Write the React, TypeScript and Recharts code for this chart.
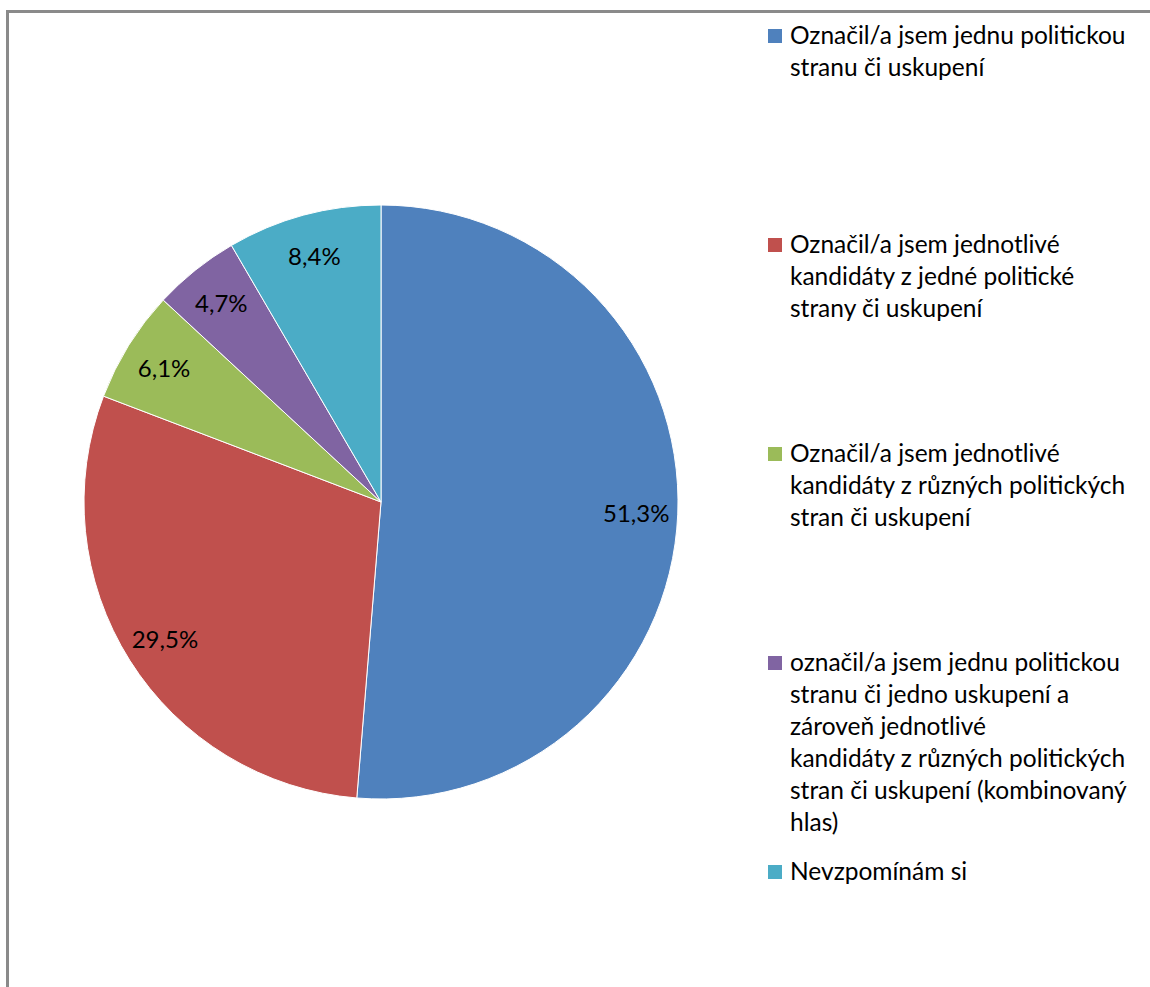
import { Cell, Legend, Pie, PieChart } from "recharts";

const CATEGORIES = [
  "Označil/a jsem jednu politickou stranu či uskupení",
  "Označil/a jsem jednotlivé kandidáty z jedné politické strany či uskupení",
  "Označil/a jsem jednotlivé kandidáty z různých politických stran či uskupení",
  "označil/a jsem jednu politickou stranu či jedno uskupení a zároveň jednotlivé kandidáty z různých politických stran či uskupení (kombinovaný hlas)",
  "Nevzpomínám si",
];

// legend lines as broken in the original
const LEGEND_LINES = [
  ["Označil/a jsem jednu politickou", "stranu či uskupení"],
  ["Označil/a jsem jednotlivé", "kandidáty z jedné politické", "strany či uskupení"],
  ["Označil/a jsem jednotlivé", "kandidáty z různých politických", "stran či uskupení"],
  [
    "označil/a jsem jednu politickou",
    "stranu či jedno uskupení a",
    "zároveň jednotlivé",
    "kandidáty z různých politických",
    "stran či uskupení (kombinovaný",
    "hlas)",
  ],
  ["Nevzpomínám si"],
];

const VALUES = [51.3, 29.5, 6.1, 4.7, 8.4];

const COLORS = ["#4F81BD", "#C0504D", "#9BBB59", "#8064A2", "#4BACC6"];

const FONT = "Lato, 'Open Sans', sans-serif";
const RADIAN = Math.PI / 180;

const data = CATEGORIES.map((name, i) => ({ name, value: VALUES[i] }));

function renderLabel(props: any) {
  const { cx, cy, midAngle, outerRadius, value } = props;
  const r = outerRadius * 0.86;
  const x = cx + r * Math.cos(-midAngle * RADIAN);
  const y = cy + r * Math.sin(-midAngle * RADIAN);
  return (
    <text
      x={x}
      y={y}
      fill="#000"
      fontSize={24}
      fontFamily={FONT}
      textAnchor="middle"
      dominantBaseline="central"
    >
      {value.toFixed(1).replace(".", ",")}%
    </text>
  );
}

function LegendContent() {
  return (
    <div style={{ position: "relative", width: 380, height: 960 }}>
      {LEGEND_LINES.map((lines, i) => (
        <div
          key={i}
          style={{
            position: "absolute",
            left: 0,
            top: 9 + i * 209,
            display: "flex",
            alignItems: "flex-start",
          }}
        >
          <div
            style={{
              width: 14,
              height: 14,
              background: COLORS[i],
              marginTop: 10,
              marginRight: 8,
            }}
          />
          <div
            style={{
              fontFamily: FONT,
              fontSize: 24.5,
              lineHeight: "32px",
              color: "#000",
              whiteSpace: "nowrap",
            }}
          >
            {lines.map((l, j) => (
              <div key={j}>{l}</div>
            ))}
          </div>
        </div>
      ))}
    </div>
  );
}

export default function App() {
  return (
    <div
      style={{
        position: "absolute",
        left: 0,
        top: 0,
        width: 1150,
        height: 987,
        background: "#fff",
        overflow: "hidden",
      }}
    >
      <div
        style={{
          position: "absolute",
          left: 6,
          top: 10,
          width: 1200,
          height: 1100,
          borderLeft: "3px solid #8a8a8a",
          borderTop: "3px solid #8a8a8a",
        }}
      />
      <div style={{ position: "absolute", left: 0, top: 0 }}>
        <PieChart
          width={1150}
          height={987}
          margin={{ top: 0, right: 0, bottom: 0, left: 0 }}
        >
          <Pie
            data={data}
            dataKey="value"
            nameKey="name"
            cx={381}
            cy={502}
            outerRadius={297}
            startAngle={90}
            endAngle={-270}
            stroke="#ffffff"
            strokeWidth={1}
            label={renderLabel}
            labelLine={false}
            isAnimationActive={false}
          >
            {data.map((d, i) => (
              <Cell key={d.name} fill={COLORS[i]} />
            ))}
          </Pie>
          <Legend
            content={<LegendContent />}
            wrapperStyle={{ left: 768, top: 10, width: 380 }}
          />
        </PieChart>
      </div>
    </div>
  );
}
